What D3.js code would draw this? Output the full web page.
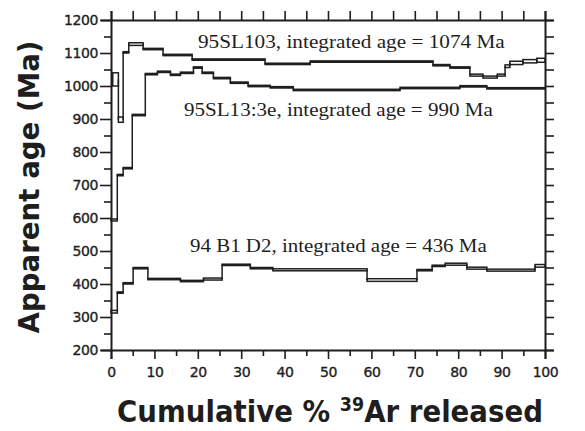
<!DOCTYPE html>
<html>
<head>
<meta charset="utf-8">
<script src="https://cdn.jsdelivr.net/npm/d3@7"></script>
<style>
  body { margin: 0; background: #fff; }
  text { fill: #1e1e1e; }
</style>
</head>
<body>
<script>
// cumulative % 39Ar boundaries, apparent ages (Ma) and half-errors for each step
const sl103Cum = [0.4, 1.7, 2.8, 4.1, 7.4, 12.0, 18.7, 35.5, 45.9, 74.2, 78.1, 82.7, 85.7, 89.0, 90.8, 91.9, 94.9, 98.1, 100];
const sl103Age = [1020, 898, 1102, 1127, 1112, 1094, 1080, 1067, 1074, 1063, 1056, 1033, 1027, 1033, 1060, 1070, 1075, 1078];
const sl103Err = [20, 8, 2, 4, 2, 2, 2, 2, 2, 2, 2, 3, 3, 3, 4, 5, 5, 6];

const sl13Cum = [0, 1.45, 2.8, 4.9, 7.9, 10.7, 13.7, 16.0, 19.0, 21.0, 23.6, 27.5, 31.6, 36.7, 42.0, 66.6, 80.4, 86.6, 100];
const sl13Age = [594, 730, 751, 912, 1036, 1043, 1034, 1040, 1056, 1040, 1024, 1010, 1000, 996, 988, 994, 999, 993];
const sl13Err = [3, 2, 2, 2, 2, 2, 2, 2, 2, 2, 2, 2, 2, 2, 2, 2, 2, 2];

const b1d2Cum = [0, 1.45, 2.8, 5.1, 8.5, 16.0, 21.3, 25.6, 32.1, 37.3, 59.0, 70.5, 74.0, 77.0, 82.0, 86.6, 97.7, 100];
const b1d2Age = [316, 374, 402, 448, 415, 409, 415, 458, 448, 443, 412, 442, 455, 460, 448, 442, 455];
const b1d2Err = [4, 2, 2, 2, 2, 2, 3, 2, 2, 3, 4, 2, 2, 3, 3, 3, 4];

const sampleLabels = [
  "95SL103, integrated age = 1074 Ma",
  "95SL13:3e, integrated age = 990 Ma",
  "94 B1 D2, integrated age = 436 Ma"
];

const xTicks = d3.range(0, 101, 5);
const yTicks = d3.range(200, 1201, 50);

const width = 585, height = 431;
const ink = "#1e1e1e";

const svg = d3.select("body").append("svg")
    .attr("width", width)
    .attr("height", height)
    .style("background", "#fff");

const x = d3.scaleLinear().domain([0, 100]).range([111, 545]);
const y = d3.scaleLinear().domain([200, 1200]).range([350, 20]);

// squeeze / stretch a text to a measured width from the picture
function fitWidth(g, target) {
    const w = g.node().getBBox().width;
    return target / w;
}

// axes
const tickFont = "DejaVu Sans, Verdana, sans-serif";

const leftAxis = svg.append("g")
    .attr("transform", "translate(" + x(0) + ",0)")
    .call(d3.axisLeft(y).tickValues(yTicks).tickSize(10).tickPadding(3)
        .tickFormat(d => d % 100 === 0 ? d : ""));
leftAxis.selectAll(".tick line").attr("x2", d => d % 100 === 0 ? -11 : -7);

const rightAxis = svg.append("g")
    .attr("transform", "translate(" + x(100) + ",0)")
    .call(d3.axisRight(y).tickValues(yTicks).tickSize(9).tickFormat(""));

const bottomAxis = svg.append("g")
    .attr("transform", "translate(0," + y(200) + ")")
    .call(d3.axisBottom(x).tickValues(xTicks).tickSize(9).tickPadding(8)
        .tickFormat(d => d % 10 === 0 ? d : ""));
bottomAxis.selectAll(".tick line").attr("y2", d => d % 10 === 0 ? 9 : 6);

const topAxis = svg.append("g")
    .attr("transform", "translate(0," + y(1200) + ")")
    .call(d3.axisTop(x).tickValues(xTicks).tickSize(9).tickFormat(""));

[leftAxis, rightAxis, bottomAxis, topAxis].forEach(a => {
    a.select(".domain").attr("stroke", ink).attr("stroke-width", 2);
    a.selectAll(".tick line").attr("stroke", ink).attr("stroke-width", 1.6);
    a.selectAll("text")
        .attr("font-family", tickFont)
        .attr("font-size", 14)
        .attr("fill", ink)
        .attr("stroke", ink)
        .attr("stroke-width", 0.35)
        .style("letter-spacing", "-0.4px");
});

// age spectra
const plot = svg.append("g");

function drawSpectrum(cum, ages, errs) {
    const steps = ages.map((a, i) => ({ x0: cum[i], x1: cum[i + 1], age: a, err: errs[i] }));

    plot.append("g")
        .selectAll("rect")
        .data(steps)
        .enter()
        .append("rect")
        .attr("x", d => x(d.x0))
        .attr("width", d => x(d.x1) - x(d.x0))
        .attr("y", d => y(d.age + d.err))
        .attr("height", d => y(d.age - d.err) - y(d.age + d.err))
        .attr("fill", "none")
        .attr("stroke", ink)
        .attr("stroke-width", 1.5);

    const joins = steps.slice(1).map((d, i) => ({ at: d.x0, from: steps[i].age, to: d.age }));
    plot.append("g")
        .selectAll("line")
        .data(joins)
        .enter()
        .append("line")
        .attr("x1", d => x(d.at))
        .attr("x2", d => x(d.at))
        .attr("y1", d => y(d.from))
        .attr("y2", d => y(d.to))
        .attr("stroke", ink)
        .attr("stroke-width", 1.5);
}

drawSpectrum(sl103Cum, sl103Age, sl103Err);
drawSpectrum(sl13Cum, sl13Age, sl13Err);
drawSpectrum(b1d2Cum, b1d2Age, b1d2Err);

// sample annotations
const notes = [
    { text: sampleLabels[0], x0: 198, x1: 505, base: 48 },
    { text: sampleLabels[1], x0: 184, x1: 493, base: 116 },
    { text: sampleLabels[2], x0: 190, x1: 487, base: 252 }
];
notes.forEach(n => {
    const g = svg.append("g");
    g.append("text")
        .attr("font-family", "Liberation Serif, Times New Roman, serif")
        .attr("font-size", 18)
        .text(n.text);
    const s = fitWidth(g, n.x1 - n.x0);
    g.attr("transform", "translate(" + n.x0 + "," + n.base + ") scale(" + s + ",1.05)");
});

// axis titles
const yTitle = svg.append("g");
yTitle.append("text")
    .attr("font-family", "DejaVu Sans, Verdana, sans-serif")
    .attr("font-weight", "bold")
    .attr("font-size", 28)
    .attr("text-anchor", "middle")
    .text("Apparent age (Ma)");
const sy = fitWidth(yTitle, 293);
yTitle.attr("transform", "translate(39,187) rotate(-90) scale(" + sy + ",1)");

const xTitle = svg.append("g");
const xt = xTitle.append("text")
    .attr("font-family", "DejaVu Sans, Verdana, sans-serif")
    .attr("font-weight", "bold")
    .attr("font-size", 30)
    .attr("text-anchor", "middle");
xt.append("tspan").text("Cumulative % ");
xt.append("tspan").attr("font-size", 19).attr("dy", -11).text("39");
xt.append("tspan").attr("dy", 11).text("Ar released");
const sx = fitWidth(xTitle, 426);
xTitle.attr("transform", "translate(330,422) scale(" + sx + ",1)");
</script>
</body>
</html>
